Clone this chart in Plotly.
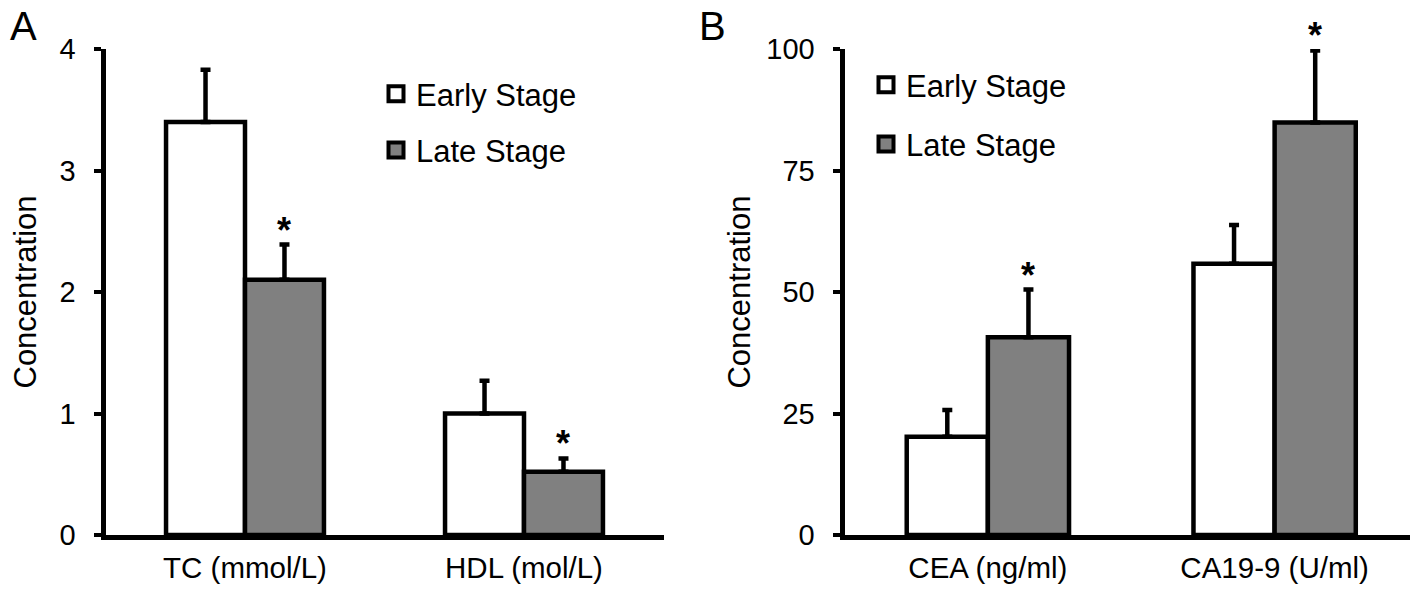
import plotly.graph_objects as go

# ---- data ----
cats_a = ["TC (mmol/L)", "HDL (mol/L)"]
early_a = [3.40, 1.00]
early_a_err = [0.43, 0.27]
late_a = [2.10, 0.52]
late_a_err = [0.29, 0.11]
sig_a = [True, True]

cats_b = ["CEA (ng/ml)", "CA19-9 (U/ml)"]
early_b = [20.2, 55.8]
early_b_err = [5.5, 8.0]
late_b = [40.7, 84.9]
late_b_err = [9.8, 14.8]
sig_b = [True, True]

series_names = ["Early Stage", "Late Stage"]
yticks_a = [0, 1, 2, 3, 4]
yticks_b = [0, 25, 50, 75, 100]

FONT = "Liberation Sans, Arial, sans-serif"
PAGE_OFF = 8            # default body margin of the html page
W, H = 1418 - PAGE_OFF, 591 - PAGE_OFF
fill_colors = ["#ffffff", "#808080"]


def px_x(p):
    return (p - PAGE_OFF) / W


def px_y(p):
    return 1 - (p - PAGE_OFF) / H


fig = go.Figure()


def add_bars(cats, vals, errs, color, xa, ya):
    fig.add_trace(go.Bar(
        x=cats, y=vals, xaxis=xa, yaxis=ya, showlegend=False,
        marker=dict(color=color, line=dict(color="black", width=4.5)),
        error_y=dict(type="data", array=errs, symmetric=False,
                     arrayminus=[0] * len(errs), color="black",
                     thickness=4.5, width=5),
    ))


def add_legend_item(name, color, legend, group):
    fig.add_trace(go.Scatter(
        x=[None], y=[None], mode="markers", name=name,
        legend=legend, legendgroup=group, showlegend=True,
        marker=dict(symbol="square", size=15, color=color,
                    line=dict(color="black", width=4)),
    ))


add_bars(cats_a, early_a, early_a_err, fill_colors[0], "x", "y")
add_bars(cats_a, late_a, late_a_err, fill_colors[1], "x", "y")
add_bars(cats_b, early_b, early_b_err, fill_colors[0], "x2", "y2")
add_bars(cats_b, late_b, late_b_err, fill_colors[1], "x2", "y2")
add_legend_item(series_names[0], fill_colors[0], "legend", "a1")
add_legend_item(series_names[1], fill_colors[1], "legend", "a2")
add_legend_item(series_names[0], fill_colors[0], "legend2", "b1")
add_legend_item(series_names[1], fill_colors[1], "legend2", "b2")

BARGAP = 0.434
offset = (1 - BARGAP) / 4  # center of second bar within a group

annotations = []
star_font = dict(size=36, family=FONT, color="black")
for i, (v, e, s) in enumerate(zip(late_a, late_a_err, sig_a)):
    if s:
        annotations.append(dict(x=i + offset, y=v + e, xref="x", yref="y", text="<b>*</b>",
                                showarrow=False, yanchor="bottom", yshift=-8, font=star_font))
for i, (v, e, s) in enumerate(zip(late_b, late_b_err, sig_b)):
    if s:
        annotations.append(dict(x=i + offset, y=v + e, xref="x2", yref="y2", text="<b>*</b>",
                                showarrow=False, yanchor="bottom", yshift=-8, font=star_font))
annotations.append(dict(x=px_x(8), y=px_y(2), xref="paper", yref="paper", text="A", showarrow=False,
                        xanchor="left", yanchor="top", font=dict(size=40, family=FONT, color="black")))
annotations.append(dict(x=px_x(697), y=px_y(2), xref="paper", yref="paper", text="B", showarrow=False,
                        xanchor="left", yanchor="top", font=dict(size=40, family=FONT, color="black")))

ydom = [px_y(535), px_y(49)]

xaxis_common = dict(showline=True, linecolor="black", linewidth=5, ticks="",
                    tickfont=dict(size=29.5, family=FONT, color="black"),
                    ticklabelstandoff=3, showgrid=False, zeroline=False, fixedrange=True,
                    automargin=False)
yaxis_common = dict(showline=True, linecolor="black", linewidth=5, ticks="outside",
                    ticklen=7, tickwidth=4, tickcolor="black",
                    tickfont=dict(size=29, family=FONT, color="black"),
                    ticklabelstandoff=12, showgrid=False, zeroline=False, domain=ydom,
                    automargin=False, fixedrange=True,
                    title=dict(text="Concentration", font=dict(size=31, family=FONT, color="black")))

fig.update_layout(
    width=W, height=H,
    margin=dict(l=0, r=0, t=0, b=0, autoexpand=False),
    paper_bgcolor="white", plot_bgcolor="white",
    bargap=BARGAP, bargroupgap=0, barmode="group",
    font=dict(family=FONT, color="black"),
    xaxis=dict(domain=[px_x(105.5), px_x(663.5)], anchor="y", **xaxis_common),
    yaxis=dict(anchor="x", range=[0, 4], tickvals=yticks_a,
               title_standoff=28, **yaxis_common),
    xaxis2=dict(domain=[px_x(844.5), 1.0], anchor="y2", **xaxis_common),
    yaxis2=dict(anchor="x2", range=[0, 100], tickvals=yticks_b,
                title_standoff=8, **yaxis_common),
    legend=dict(x=px_x(376), y=px_y(67), xanchor="left", yanchor="top",
                traceorder="grouped", tracegroupgap=13, bgcolor="rgba(0,0,0,0)",
                font=dict(size=31, family=FONT, color="black")),
    legend2=dict(x=px_x(866), y=px_y(58), xanchor="left", yanchor="top",
                 traceorder="grouped", tracegroupgap=16, bgcolor="rgba(0,0,0,0)",
                 font=dict(size=31, family=FONT, color="black")),
    annotations=annotations,
)

fig.write_html("out.html")
